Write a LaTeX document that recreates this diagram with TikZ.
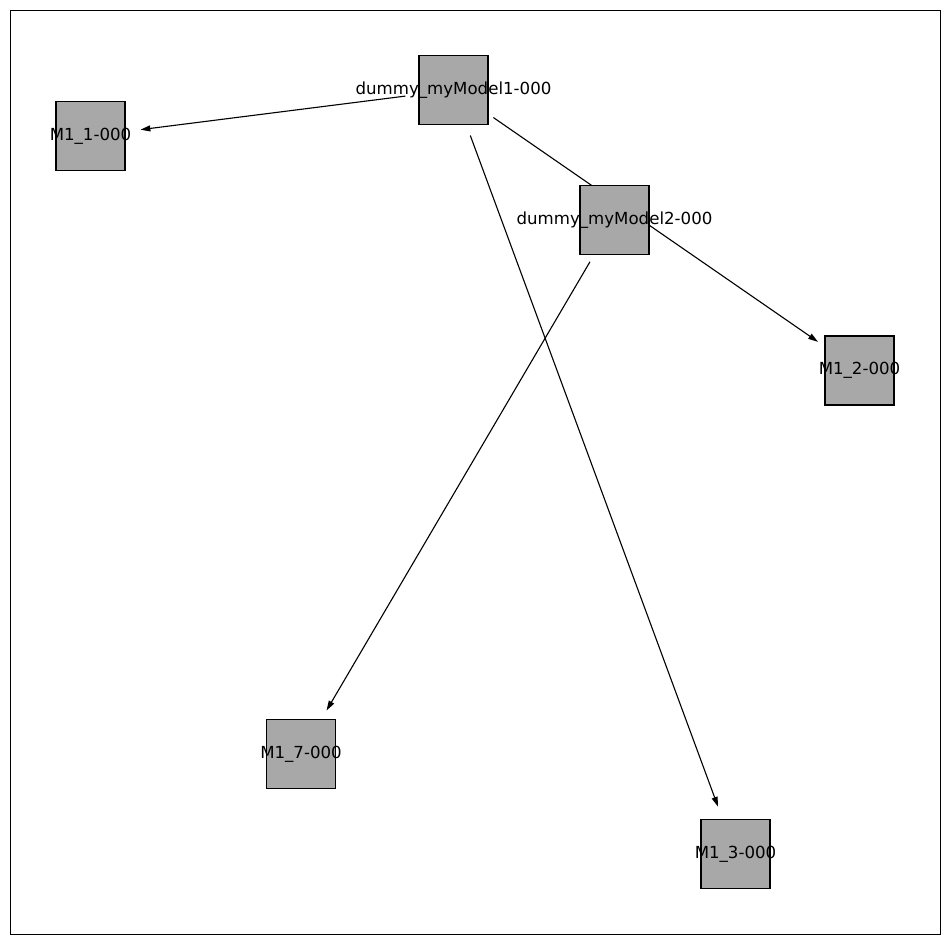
\documentclass[tikz,border=0pt]{standalone}
\usepackage{fontspec}
\setmainfont{DejaVu Sans}
\usetikzlibrary{arrows.meta,backgrounds}
\definecolor{ModelFill}{RGB}{168,168,168}
\definecolor{ModelInk}{gray}{0}
\tikzset{
    graph/diagram/.style={
        font=\fontsize{12}{14}\selectfont,
        line width=0.8pt,
        >={Triangle[length=2.5mm, width=1.5mm]}
    },
    graph/frame/.style={draw=ModelInk, line width=0.7pt},
    graph/model/.style={
        rectangle, fill=ModelFill, draw=ModelInk, line width=0.8pt,
        minimum size=0.69in, inner sep=0pt
    },
    graph/edge/.style={
        draw=ModelInk, line width=0.8pt, ->,
        shorten <=12.3mm, shorten >=12.8mm
    }
}

\begin{document}
\begin{tikzpicture}[graph/diagram, x=0.01in, y=-0.01in]
    \useasboundingbox (0,0) rectangle (950,944);
    \draw[graph/frame] (10,10) rectangle (940,934);
    % models
    \node[graph/model] (d1) at (453.5,90) {\makebox[0pt]{dummy\_myModel1-000}};
    \node[graph/model] (d2) at (614.5,220) {\makebox[0pt]{dummy\_myModel2-000}};
    \node[graph/model] (m1) at (90.5,136) {\makebox[0pt]{M1\_1-000}};
    \node[graph/model] (m2) at (859.5,370.5) {\makebox[0pt]{M1\_2-000}};
    \node[graph/model] (m7) at (301,754) {\makebox[0pt]{M1\_7-000}};
    \node[graph/model] (m3) at (735.5,854) {\makebox[0pt]{M1\_3-000}};
    % edges, behind the squares
    \begin{scope}[on background layer]
        \foreach \a/\b in {d1/m1, d1/m2, d1/m3, d2/m7} {
            \draw[graph/edge] (\a.center) -- (\b.center);
        }
    \end{scope}
\end{tikzpicture}
\end{document}
